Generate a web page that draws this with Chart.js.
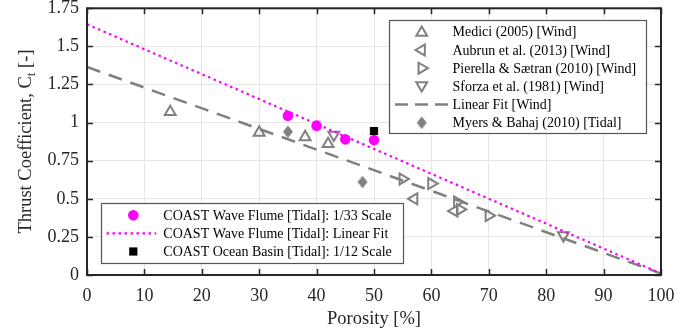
<!DOCTYPE html>
<html><head><meta charset="utf-8">
<script src="https://cdn.jsdelivr.net/npm/chart.js@4/dist/chart.umd.min.js"></script>
<style>html,body{margin:0;padding:0;background:#fff;}#wrap{width:699px;height:331px;}</style>
</head><body><div id="wrap"><canvas id="c" width="699" height="331"></canvas></div>
<script>
// ---- data ----
const xTicks = [0, 10, 20, 30, 40, 50, 60, 70, 80, 90, 100];
const xTickLabels = ['0', '10', '20', '30', '40', '50', '60', '70', '80', '90', '100'];
const yTicks = [0, 0.25, 0.5, 0.75, 1, 1.25, 1.5, 1.75];
const yTickLabels = ['0', '0.25', '0.5', '0.75', '1', '1.25', '1.5', '1.75'];

const mediciX = [14.5, 30, 38, 42];
const mediciY = [1.07, 0.935, 0.905, 0.86];
const aubrunX = [57, 64];
const aubrunY = [0.50, 0.42];
const pierellaX = [55, 60, 64.5, 65, 70];
const pierellaY = [0.63, 0.60, 0.48, 0.43, 0.39];
const sforzaX = [43, 83];
const sforzaY = [0.92, 0.26];
const windFitX = [0, 100];
const windFitY = [1.365, 0.01];
const myersX = [35, 48];
const myersY = [0.94, 0.61];
const flumeX = [35, 40, 45, 50];
const flumeY = [1.045, 0.98, 0.89, 0.885];
const flumeFitX = [0, 100];
const flumeFitY = [1.645, 0.01];
const basinX = [50];
const basinY = [0.945];

const seriesNames = [
  'Medici (2005) [Wind]',
  'Aubrun et al. (2013) [Wind]',
  'Pierella & Sætran (2010) [Wind]',
  'Sforza et al. (1981) [Wind]',
  'Linear Fit [Wind]',
  'Myers & Bahaj (2010) [Tidal]',
  'COAST Wave Flume [Tidal]: 1/33 Scale',
  'COAST Wave Flume [Tidal]: Linear Fit',
  'COAST Ocean Basin [Tidal]: 1/12 Scale'
];

// ---- styles ----
const GRAY = '#808080';
const MAG = '#ff00ff';
const AX = '#262626';
const SERIF = '"Liberation Serif", "Times New Roman", serif';
const WIND_DASH = [14, 9];
const DOT_DASH = [2.5, 3.5];

function pts(xs, ys) { return xs.map((x, i) => ({ x: x, y: ys[i] })); }

// diamond marker image (taller than wide)
function diamondCanvas() {
  const c = document.createElement('canvas');
  c.width = 12; c.height = 14;
  const g = c.getContext('2d');
  g.fillStyle = GRAY;
  g.beginPath();
  g.moveTo(6, 0.8); g.lineTo(11, 7); g.lineTo(6, 13.2); g.lineTo(1, 7); g.closePath();
  g.fill();
  return c;
}
const DIAMOND = diamondCanvas();

function triDS(label, data, rot) {
  return {
    label: label, data: data, pointStyle: 'triangle', rotation: rot,
    radius: 6.3, borderColor: GRAY, backgroundColor: 'rgba(0,0,0,0)', borderWidth: 2,
    showLine: false, order: 5
  };
}

const datasets = [
  triDS(seriesNames[0], pts(mediciX, mediciY), 0),
  triDS(seriesNames[1], pts(aubrunX, aubrunY), -90),
  triDS(seriesNames[2], pts(pierellaX, pierellaY), 90),
  triDS(seriesNames[3], pts(sforzaX, sforzaY), 180),
  { label: seriesNames[4], data: pts(windFitX, windFitY), showLine: true, pointRadius: 0,
    borderColor: GRAY, borderWidth: 2.5, borderDash: WIND_DASH, fill: false, order: 6 },
  { label: seriesNames[5], data: pts(myersX, myersY), pointStyle: DIAMOND, radius: 6,
    borderWidth: 0, showLine: false, order: 4 },
  { label: seriesNames[6], data: pts(flumeX, flumeY), pointStyle: 'circle', radius: 5.3,
    backgroundColor: MAG, borderColor: MAG, borderWidth: 0, showLine: false, order: 2 },
  { label: seriesNames[7], data: pts(flumeFitX, flumeFitY), showLine: true, pointRadius: 0,
    borderColor: MAG, borderWidth: 2.2, borderDash: DOT_DASH, fill: false, order: 3 },
  { label: seriesNames[8], data: pts(basinX, basinY), pointStyle: 'rect', radius: 5.8,
    backgroundColor: '#000', borderColor: '#000', borderWidth: 0, showLine: false, order: 1 }
];

// ---- helpers for legend ----
function marker(ctx, style, x, y, r, rot) {
  ctx.save();
  ctx.beginPath();
  if (style === 'triangle') {
    let a = rot * Math.PI / 180;
    ctx.moveTo(x + Math.sin(a) * r, y - Math.cos(a) * r);
    a += 2 * Math.PI / 3;
    ctx.lineTo(x + Math.sin(a) * r, y - Math.cos(a) * r);
    a += 2 * Math.PI / 3;
    ctx.lineTo(x + Math.sin(a) * r, y - Math.cos(a) * r);
    ctx.closePath();
    ctx.strokeStyle = GRAY; ctx.lineWidth = 2; ctx.stroke();
  } else if (style === 'diamond') {
    ctx.drawImage(DIAMOND, x - 6, y - 7);
  } else if (style === 'circle') {
    ctx.arc(x, y, r, 0, Math.PI * 2); ctx.fillStyle = MAG; ctx.fill();
  } else if (style === 'rect') {
    const s = r * Math.SQRT1_2;
    ctx.fillStyle = '#000'; ctx.fillRect(x - s, y - s, 2 * s, 2 * s);
  }
  ctx.restore();
}
function lineSample(ctx, x1, x2, y, color, width, dash) {
  ctx.save();
  ctx.beginPath(); ctx.setLineDash(dash); ctx.strokeStyle = color; ctx.lineWidth = width;
  ctx.moveTo(x1, y); ctx.lineTo(x2, y); ctx.stroke();
  ctx.restore();
}

const decorPlugin = {
  id: 'decor',
  afterDatasetsDraw(chart) {
    const ctx = chart.ctx, a = chart.chartArea;
    const xs = chart.scales.x, ys = chart.scales.y;
    ctx.save();
    ctx.strokeStyle = AX; ctx.lineWidth = 1.5;
    ctx.beginPath();
    xTicks.forEach(v => {
      const px = Math.round(xs.getPixelForValue(v)) + 0.5;
      ctx.moveTo(px, a.bottom); ctx.lineTo(px, a.bottom - 6);
      ctx.moveTo(px, a.top); ctx.lineTo(px, a.top + 6);
    });
    yTicks.forEach(v => {
      const py = Math.round(ys.getPixelForValue(v)) + 0.5;
      ctx.moveTo(a.left, py); ctx.lineTo(a.left + 6, py);
      ctx.moveTo(a.right, py); ctx.lineTo(a.right - 6, py);
    });
    ctx.stroke();
    ctx.lineWidth = 2;
    ctx.strokeRect(a.left, a.top, a.right - a.left, a.bottom - a.top);
    ctx.restore();
  },
  afterDraw(chart) {
    const ctx = chart.ctx;
    ctx.save();
    // axis titles
    ctx.fillStyle = AX;
    ctx.font = '18.5px ' + SERIF;
    ctx.textAlign = 'center'; ctx.textBaseline = 'middle';
    ctx.fillText('Porosity [%]', 374, 319);
    ctx.translate(30.5, 141.5);
    ctx.rotate(-Math.PI / 2);
    ctx.textAlign = 'left'; ctx.textBaseline = 'alphabetic';
    const big = '18.5px ' + SERIF, small = '13px ' + SERIF;
    ctx.font = big; const w1 = ctx.measureText('Thrust Coefficient, C').width;
    const w3 = ctx.measureText(' [-]').width;
    ctx.font = small; const w2 = ctx.measureText('t').width;
    const s = -(w1 + w2 + w3) / 2;
    ctx.font = big; ctx.fillText('Thrust Coefficient, C', s, 0);
    ctx.font = small; ctx.fillText('t', s + w1, 4.5);
    ctx.font = big; ctx.fillText(' [-]', s + w1 + w2, 0);
    ctx.restore();

    // legends
    ctx.save();
    ctx.font = '14px ' + SERIF;
    ctx.textBaseline = 'middle'; ctx.textAlign = 'left';
    // legend 1
    ctx.fillStyle = '#fff'; ctx.fillRect(389, 20, 257, 113);
    ctx.strokeStyle = '#555'; ctx.lineWidth = 1.2; ctx.strokeRect(389.5, 20.5, 257, 113);
    const r1 = [31.7, 50, 68.2, 86.3, 104.5, 122.7];
    marker(ctx, 'triangle', 421.7, r1[0] + 1, 6.3, 0);
    marker(ctx, 'triangle', 421.7, r1[1], 6.3, -90);
    marker(ctx, 'triangle', 421.7, r1[2], 6.3, 90);
    marker(ctx, 'triangle', 421.7, r1[3] - 1, 6.3, 180);
    lineSample(ctx, 395, 449, r1[4], GRAY, 2.5, [13, 7]);
    marker(ctx, 'diamond', 421.7, r1[5], 6, 0);
    ctx.fillStyle = '#000';
    for (let i = 0; i < 6; i++) ctx.fillText(seriesNames[i], 452.5, r1[i] + 1);
    // legend 2
    ctx.fillStyle = '#fff'; ctx.fillRect(101, 203, 302, 60);
    ctx.strokeStyle = '#555'; ctx.strokeRect(101.5, 203.5, 302, 60);
    const r2 = [215.2, 233.4, 251.5];
    marker(ctx, 'circle', 133.3, r2[0], 5.3, 0);
    lineSample(ctx, 106.5, 156, r2[1], MAG, 2.2, DOT_DASH);
    marker(ctx, 'rect', 133.3, r2[2], 5.8, 0);
    ctx.fillStyle = '#000';
    for (let i = 0; i < 3; i++) ctx.fillText(seriesNames[6 + i], 163.3, r2[i] + 1);
    ctx.restore();
  }
};

new Chart(document.getElementById('c'), {
  type: 'scatter',
  data: { datasets: datasets },
  options: {
    responsive: false, animation: false, devicePixelRatio: 1,
    layout: { padding: { top: 8, right: 38, left: 0, bottom: 0 } },
    plugins: { legend: { display: false }, tooltip: { enabled: false } },
    scales: {
      x: {
        type: 'linear', min: 0, max: 100,
        afterBuildTicks: s => { s.ticks = xTicks.map(v => ({ value: v })); },
        afterFit: s => { s.height = 56; s.paddingLeft = 0; s.paddingRight = 0; },
        ticks: { callback: (v) => xTickLabels[xTicks.indexOf(v)], color: AX, padding: 10,
                 font: { family: SERIF, size: 18 }, maxRotation: 0, autoSkip: false },
        grid: { color: '#e6e6e6', lineWidth: 1, drawTicks: false },
        border: { display: false }
      },
      y: {
        type: 'linear', min: 0, max: 1.75,
        afterBuildTicks: s => { s.ticks = yTicks.map(v => ({ value: v })); },
        afterFit: s => { s.width = 87; s.paddingTop = 0; s.paddingBottom = 0; },
        ticks: { callback: (v) => yTickLabels[yTicks.indexOf(v)], color: AX, padding: 8,
                 font: { family: SERIF, size: 18 }, autoSkip: false },
        grid: { color: '#e6e6e6', lineWidth: 1, drawTicks: false },
        border: { display: false }
      }
    }
  },
  plugins: [decorPlugin]
});
</script>
</body></html>
